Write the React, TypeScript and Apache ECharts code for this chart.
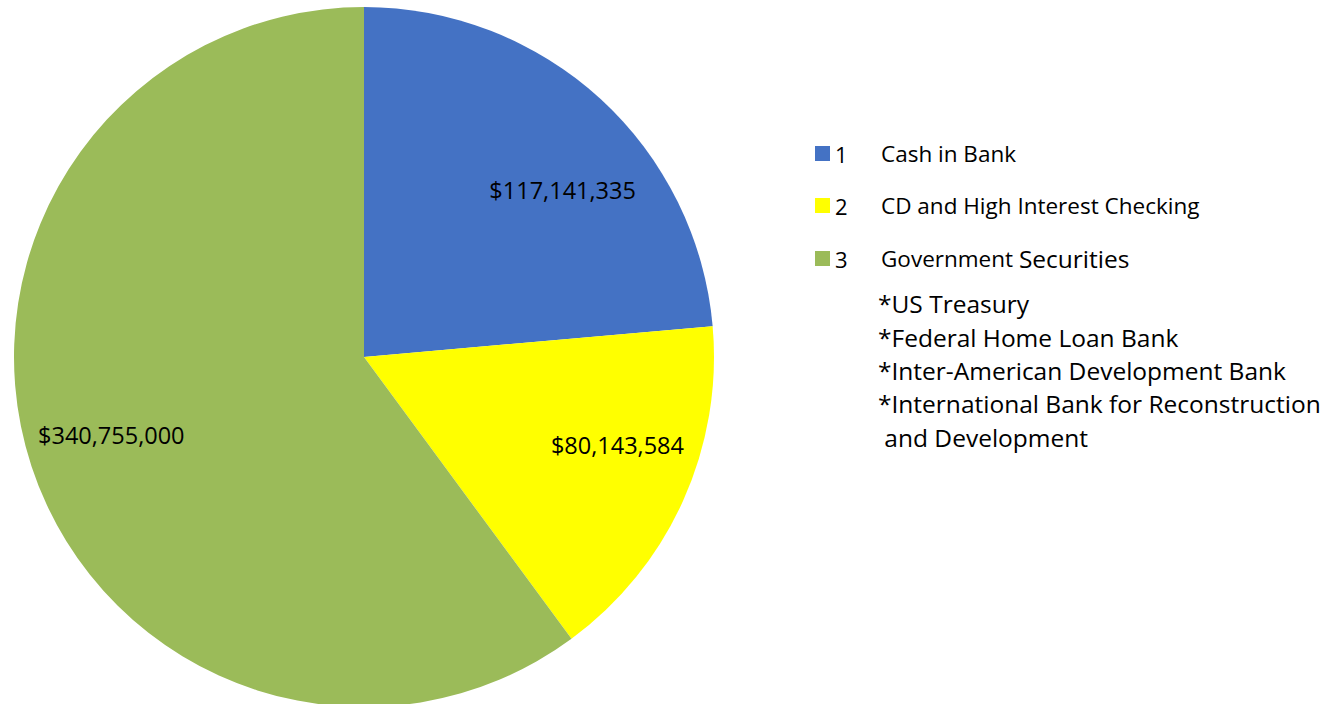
import React, { useEffect, useRef } from "react";
import * as echarts from "echarts";

const categories = ["Cash in Bank", "CD and High Interest Checking", "Government Securities"];
const itemNumbers = ["1", "2", "3"];
const amountLabels = ["$117,141,335", "$80,143,584", "$340,755,000"];
// slice shares (%) as drawn in the picture
const sliceShares = [23.6, 16.3, 60.1];
const colors = ["#4472C4", "#FFFF00", "#9BBB59"];
const securitiesList = [
  "*US Treasury",
  "*Federal Home Loan Bank",
  "*Inter-American Development Bank",
  "*International Bank for Reconstruction",
  " and Development",
];

const FONT = "'Open Sans', 'Noto Sans', sans-serif";

export default function App() {
  const ref = useRef<HTMLDivElement>(null);
  useEffect(() => {
    if (!ref.current) return;
    const chart = echarts.init(ref.current, undefined, { renderer: "svg" });
    const data = categories.map((c, i) => ({
      name: c,
      value: sliceShares[i],
      itemStyle: { color: colors[i] },
    }));
    const labelOffsets: [number, number][] = [[19, 29], [11, -21], [0, -5]];
    chart.setOption({
      animation: false,
      backgroundColor: "#ffffff",
      textStyle: { fontFamily: FONT },
      legend: {
        orient: "vertical",
        left: 815,
        top: 142,
        padding: 0,
        itemWidth: 15,
        itemHeight: 15,
        itemGap: 29,
        icon: "rect",
        selectedMode: false,
        data: categories,
        formatter: (name: string) => {
          const i = categories.indexOf(name);
          if (i === 2) return `{n|${itemNumbers[i]}}{t|Government }{b|Securities}`;
          return `{n|${itemNumbers[i]}}{t|${name}}`;
        },
        textStyle: {
          fontFamily: FONT,
          color: "#000",
          rich: {
            n: { width: 46, fontSize: 22, fontFamily: FONT, color: "#000", lineHeight: 23 },
            t: { fontSize: 22.5, fontFamily: FONT, color: "#000", lineHeight: 23 },
            b: { fontSize: 24.5, fontFamily: FONT, color: "#000", lineHeight: 23 },
          },
        },
      },
      title: {
        text: securitiesList.join("\n"),
        left: 873,
        top: 282,
        textStyle: {
          fontFamily: FONT,
          fontSize: 24.5,
          fontWeight: "normal",
          color: "#000",
          lineHeight: 33.4,
        },
      },
      series: [
        {
          type: "pie",
          center: [364, 357],
          radius: [0, 350],
          startAngle: 90,
          clockwise: true,
          silent: true,
          label: { show: false },
          labelLine: { show: false },
          data,
        },
        {
          type: "pie",
          center: [364, 357],
          radius: [176, 350],
          startAngle: 90,
          clockwise: true,
          silent: true,
          itemStyle: { color: "transparent" },
          labelLine: { show: false },
          data: data.map((d, i) => ({
            name: d.name,
            value: d.value,
            itemStyle: { color: "transparent" },
            label: {
              show: true,
              position: "inside",
              formatter: amountLabels[i],
              fontFamily: FONT,
              fontSize: 23.5,
              color: "#000",
              offset: labelOffsets[i],
            },
          })),
        },
      ],
    });
    return () => chart.dispose();
  }, []);
  return (
    <div
      ref={ref}
      style={{ position: "fixed", left: 0, top: 0, width: 1336, height: 704 }}
    />
  );
}
